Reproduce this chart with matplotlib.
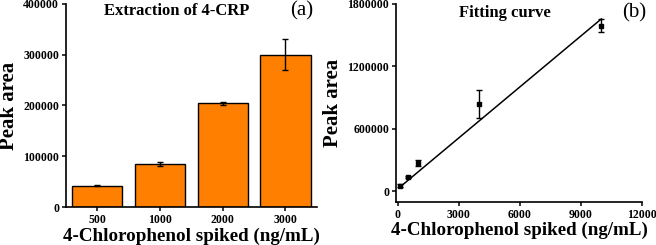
import matplotlib
matplotlib.use("Agg")
import matplotlib.pyplot as plt
import numpy as np

# ---------------------------------------------------------------------------
# Dados
# ---------------------------------------------------------------------------
categorias = ["500", "1000", "2000", "3000"]
area_barras = [42000, 84000, 204000, 300000]
erro_barras = [1000, 4000, 3500, 31000]

conc_ajuste = [100, 500, 1000, 4000, 10000]
area_ajuste = [55000, 134000, 272000, 838000, 1592000]
erro_ajuste = [12000, 10000, 32000, 132000, 64000]

# parametros da reta ajustada
inclinacao = 163.4
intercepto = 21700

plt.rcParams["font.family"] = ["Liberation Serif", "DejaVu Serif"]
plt.rcParams["font.weight"] = "bold"

fig = plt.figure(figsize=(6.56, 2.45), dpi=100)
ax1 = fig.add_axes([0.1006, 0.155, 0.3824, 0.829])
ax2 = fig.add_axes([0.6037, 0.177, 0.375, 0.807])

for ax in (ax1, ax2):
    for lado in ("top", "right"):
        ax.spines[lado].set_visible(False)
    for lado in ("left", "bottom"):
        ax.spines[lado].set_linewidth(1.2)
    ax.tick_params(direction="out", length=3, width=1.1, labelsize=8.5, pad=2)

# (a) barras
x = np.arange(len(categorias))
ax1.bar(x, area_barras, width=0.8, color="#FF8000", edgecolor="black",
        linewidth=1.0, yerr=erro_barras, capsize=2.5,
        error_kw=dict(elinewidth=1.0, capthick=1.0, ecolor="black"))
ax1.set_xticks(x)
ax1.set_xticklabels(categorias, fontweight="bold")
ax1.set_xlim(-0.5, 3.5)
ax1.set_ylim(0, 400000)
ax1.set_yticks([0, 100000, 200000, 300000, 400000])
ax1.set_yticklabels(["0", "100000", "200000", "300000", "400000"], fontweight="bold")
ax1.set_ylabel("Peak area", fontsize=15, fontweight="bold", labelpad=3)
ax1.set_xlabel("4-Chlorophenol spiked (ng/mL)", fontsize=13.7, fontweight="bold", labelpad=1)
ax1.text(0.44, 0.965, "Extraction of 4-CRP", transform=ax1.transAxes,
         ha="center", va="center", fontsize=12, fontweight="bold")
ax1.text(0.94, 0.965, "(a)", transform=ax1.transAxes,
         ha="center", va="center", fontsize=15, fontweight="normal")

# (b) curva de ajuste
xs = np.array([conc_ajuste[0], conc_ajuste[-1]])
ax2.plot(xs, inclinacao * xs + intercepto, color="black", linewidth=1.1)
ax2.errorbar(conc_ajuste, area_ajuste, yerr=erro_ajuste, fmt="s", color="black",
             markersize=3.5, elinewidth=1.0, capsize=2.5, capthick=1.0)
ax2.set_xlim(-80, 12000)
ax2.set_ylim(-100000, 1800000)
ax2.set_xticks([0, 3000, 6000, 9000, 12000])
ax2.set_xticklabels(["0", "3000", "6000", "9000", "12000"], fontweight="bold")
ax2.set_yticks([0, 600000, 1200000, 1800000])
ax2.set_yticklabels(["0", "600000", "1200000", "1800000"], fontweight="bold")
ax2.set_ylabel("Peak area", fontsize=15, fontweight="bold", labelpad=3)
ax2.set_xlabel("4-Chlorophenol spiked (ng/mL)", fontsize=13.7, fontweight="bold", labelpad=1)
ax2.text(0.443, 0.955, "Fitting curve", transform=ax2.transAxes,
         ha="center", va="center", fontsize=12, fontweight="bold")
ax2.text(0.97, 0.955, "(b)", transform=ax2.transAxes,
         ha="center", va="center", fontsize=15, fontweight="normal")

fig.savefig("out.png", dpi=100)
